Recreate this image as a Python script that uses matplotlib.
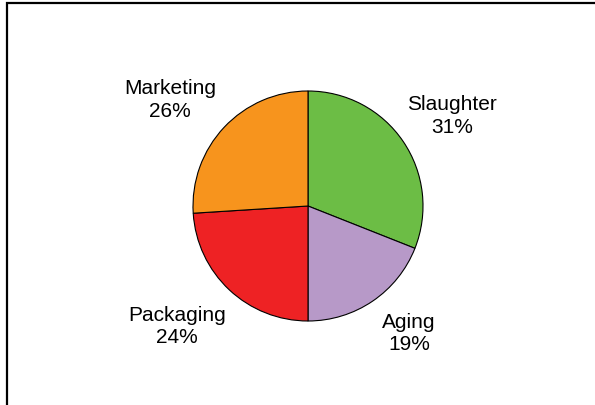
import matplotlib.pyplot as plt
from matplotlib.patches import Rectangle

stages = ['Slaughter', 'Aging', 'Packaging', 'Marketing']
shares = [31, 19, 24, 26]
colors = ['#6cbd45', '#b799c8', '#ee2224', '#f7941d']

plt.rcParams['font.family'] = ['Liberation Sans', 'DejaVu Sans']

W, H = 595, 406
fig = plt.figure(figsize=(W / 100, H / 100), dpi=100)

# outer frame, running off the right and bottom edges
fig.patches.append(Rectangle((6.5 / W, -0.1), 1.2, (H - 3.5) / H + 0.1,
                             transform=fig.transFigure, fill=False,
                             edgecolor='black', linewidth=1.6))

cx, cy, r = 308, 207, 115
ax = fig.add_axes([(cx - r) / W, (H - cy - r) / H, 2 * r / W, 2 * r / H])
labels = [f'{s}\n{v}%' for s, v in zip(stages, shares)]
wedges, texts = ax.pie(shares, labels=labels, colors=colors, startangle=90,
                       counterclock=False, labeldistance=1.48,
                       wedgeprops=dict(edgecolor='black', linewidth=0.8),
                       textprops=dict(fontsize=15, linespacing=1.25))

# label spots (in pie radii), nudged off the plain radial layout
label_xy = [(1.25, 0.79), (0.88, -1.10), (-1.14, -1.04), (-1.20, 0.93)]
for t, xy in zip(texts, label_xy):
    t.set_position(xy)
    t.set_ha('center')
    t.set_va('center')
ax.set_xlim(-1, 1)
ax.set_ylim(-1, 1)
ax.set_aspect('equal')
ax.axis('off')

fig.savefig('out.png', dpi=100)
